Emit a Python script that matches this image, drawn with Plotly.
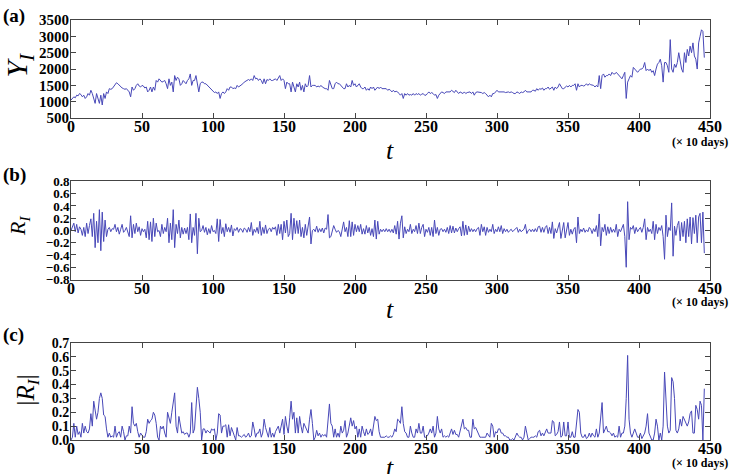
import plotly.graph_objects as go

# ---------------- data ----------------
t_values = list(range(0, 447))

Y_I = [
    1050, 1100, 1150, 1120, 1200, 1180, 1250, 1220, 1150, 1200,
    1100, 1150, 1250, 1200, 1350, 1250, 1100, 950, 1250, 1100,
    950, 1200, 900, 1250, 1100, 1300, 1250, 1400, 1380, 1400,
    1450, 1500, 1580, 1550, 1500, 1480, 1420, 1400, 1380, 1400,
    1350, 1300, 1150, 1450, 1350, 1400, 1500, 1550, 1480, 1450,
    1500, 1480, 1420, 1450, 1300, 1350, 1450, 1300, 1450, 1350,
    1650, 1600, 1700, 1650, 1600, 1620, 1650, 1550, 1400, 1700,
    1500, 1600, 1300, 1800, 1650, 1750, 1700, 1500, 1550, 1650,
    1600, 1550, 1650, 1700, 1850, 1500, 1650, 1650, 1800, 1550,
    1300, 1550, 1600, 1600, 1550, 1550, 1500, 1450, 1400, 1350,
    1300, 1280, 1300, 1250, 1300, 1100, 1250, 1300, 1250, 1300,
    1400, 1350, 1450, 1450, 1400, 1420, 1400, 1500, 1450, 1480,
    1500, 1550, 1600, 1620, 1650, 1680, 1650, 1700, 1650, 1800,
    1700, 1720, 1650, 1700, 1650, 1550, 1700, 1550, 1680, 1650,
    1700, 1650, 1650, 1680, 1700, 1650, 1750, 1800, 1650, 1700,
    1650, 1400, 1600, 1550, 1550, 1300, 1600, 1450, 1300, 1550,
    1450, 1600, 1350, 1500, 1300, 1550, 1450, 1500, 1800, 1450,
    1500, 1500, 1500, 1450, 1480, 1450, 1500, 1450, 1420, 1400,
    1400, 1350, 1650, 1500, 1400, 1400, 1550, 1600, 1550, 1550,
    1500, 1450, 1400, 1400, 1550, 1450, 1500, 1450, 1650, 1500,
    1550, 1450, 1500, 1550, 1450, 1400, 1400, 1450, 1350, 1400,
    1350, 1450, 1400, 1450, 1350, 1400, 1450, 1400, 1450, 1400,
    1400, 1380, 1400, 1350, 1380, 1350, 1300, 1350, 1300, 1320,
    1300, 1250, 1200, 1250, 1100, 1250, 1200, 1250, 1200, 1220,
    1200, 1250, 1200, 1250, 1220, 1250, 1200, 1230, 1250, 1200,
    1200, 1250, 1300, 1250, 1280, 1250, 1200, 1220, 1100, 1200,
    1250, 1300, 1280, 1250, 1300, 1300, 1320, 1300, 1350, 1300,
    1280, 1350, 1300, 1250, 1300, 1280, 1250, 1300, 1250, 1280,
    1300, 1300, 1250, 1300, 1200, 1280, 1300, 1300, 1300, 1280,
    1250, 1280, 1250, 1200, 1150, 1200, 1150, 1250, 1250, 1300,
    1350, 1300, 1300, 1300, 1320, 1300, 1280, 1300, 1300, 1280,
    1300, 1280, 1250, 1250, 1300, 1280, 1250, 1300, 1280, 1300,
    1350, 1300, 1300, 1320, 1300, 1350, 1350, 1320, 1400, 1350,
    1400, 1380, 1420, 1350, 1400, 1400, 1450, 1380, 1420, 1450,
    1350, 1450, 1400, 1450, 1550, 1450, 1400, 1400, 1450, 1480,
    1450, 1500, 1450, 1500, 1500, 1550, 1350, 1550, 1450, 1500,
    1500, 1480, 1500, 1550, 1500, 1550, 1520, 1500, 1500, 1450,
    1500, 1450, 1800, 1400, 1800, 1850, 1750, 1800, 1800, 1850,
    1800, 1900, 1850, 1850, 1900, 1850, 1800, 1750, 1700, 1800,
    1900, 1100, 1600, 1700, 1800, 1750, 2050, 2000, 1950, 1900,
    1950, 2000, 2000, 2050, 2200, 1950, 2000, 1950, 2000, 1900,
    1950, 1800, 2000, 2150, 2200, 2300, 2100, 1600, 2200, 2200,
    2100, 1900, 2900, 2000, 1900, 2150, 2050, 2200, 2500, 2200,
    2000, 1900, 2500, 2200, 2600, 2400, 2700, 2500, 2800, 2400,
    2300, 2000, 2800, 3000, 3200, 3150, 2350,
]

R_I = [
    0.0, 0.05, 0.12, -0.02, 0.1, -0.04, 0.06, 0.02, -0.08, 0.05,
    -0.1, 0.12, -0.05, 0.08, 0.19, -0.1, 0.28, -0.28, 0.15, -0.2,
    0.34, -0.33, 0.3, -0.18, 0.17, -0.1, 0.02, 0.05, -0.02, 0.03,
    0.02, 0.1, -0.02, 0.05, -0.06, 0.02, 0.1, -0.03, 0.0, 0.05,
    -0.03, -0.1, 0.24, -0.12, 0.1, -0.05, 0.12, -0.02, 0.06, -0.08,
    0.03, -0.02, 0.02, -0.12, 0.15, -0.15, 0.14, -0.18, 0.2, -0.1,
    0.12, -0.02, 0.0, -0.1, 0.1, -0.05, 0.05, -0.02, 0.2, -0.2,
    0.12, -0.15, 0.34, -0.28, 0.1, -0.05, 0.17, -0.12, 0.05, -0.06,
    0.04, -0.05, 0.05, -0.15, 0.27, -0.2, 0.05, -0.08, 0.28, -0.38,
    0.2, -0.02, 0.0, 0.08, -0.03, 0.05, -0.07, 0.03, -0.05, 0.08,
    -0.02, 0.0, -0.05, 0.19, -0.18, 0.18, -0.05, 0.05, -0.1, 0.11,
    -0.02, 0.05, -0.03, 0.09, -0.09, 0.03, 0.0, 0.05, -0.03, 0.03,
    0.02, -0.03, 0.04, 0.02, -0.03, 0.05, -0.02, 0.13, -0.08, 0.02,
    -0.03, 0.05, -0.05, 0.15, -0.08, 0.05, -0.05, 0.09, -0.05, 0.02,
    0.04, -0.02, 0.05, 0.02, 0.06, -0.08, 0.1, -0.05, 0.1, -0.15,
    0.15, -0.04, 0.17, -0.1, -0.05, 0.28, -0.15, 0.2, -0.05, 0.16,
    -0.05, 0.17, -0.1, 0.05, -0.12, 0.1, -0.08, 0.05, 0.22, -0.22,
    0.0, 0.02, -0.02, 0.07, -0.03, 0.03, -0.02, 0.04, -0.04, 0.04,
    0.02, 0.26, -0.12, -0.1, 0.02, 0.08, 0.02, -0.03, 0.0, -0.02,
    -0.1, 0.02, 0.14, -0.02, 0.05, -0.1, 0.16, -0.1, 0.14, -0.08,
    0.1, -0.02, 0.08, -0.02, 0.1, -0.06, 0.03, -0.06, 0.08, -0.04,
    0.05, -0.08, 0.03, -0.1, 0.17, -0.14, 0.15, -0.06, 0.02, -0.02,
    0.02, -0.02, 0.03, -0.02, 0.02, -0.03, 0.02, -0.04, 0.08, -0.06,
    0.15, -0.14, 0.12, 0.24, -0.12, 0.06, -0.05, 0.02, -0.02, 0.1,
    -0.05, 0.02, -0.02, 0.08, -0.05, 0.12, -0.05, 0.05, 0.1, -0.1,
    0.02, -0.03, 0.05, -0.08, 0.05, -0.1, 0.17, -0.05, 0.05, -0.08,
    0.02, 0.03, -0.02, 0.02, -0.03, 0.05, -0.05, 0.08, -0.04, 0.07,
    -0.04, 0.04, -0.02, 0.03, 0.06, -0.09, 0.15, -0.08, 0.09, -0.07,
    0.07, -0.02, 0.03, -0.02, 0.02, -0.02, 0.03, 0.05, -0.08, 0.1,
    -0.02, 0.06, -0.08, 0.05, -0.03, 0.02, -0.02, 0.1, -0.05, 0.02,
    -0.02, 0.06, -0.02, 0.08, -0.05, 0.03, -0.02, 0.02, -0.03, 0.0,
    0.02, -0.02, 0.0, 0.03, 0.05, -0.03, 0.02, -0.02, 0.0, 0.02,
    0.1, -0.05, 0.0, 0.02, -0.02, 0.02, -0.02, 0.03, -0.02, 0.06,
    0.07, -0.03, 0.05, -0.03, 0.05, 0.08, -0.05, 0.05, -0.05, 0.14,
    -0.13, 0.03, -0.04, 0.06, 0.13, -0.13, 0.03, 0.13, -0.12, 0.03,
    0.13, -0.08, 0.02, -0.06, 0.02, 0.05, -0.2, 0.22, -0.05, 0.02,
    -0.02, 0.04, -0.03, 0.01, -0.02, 0.05, 0.02, -0.05, 0.03, -0.02,
    0.08, -0.1, 0.27, -0.25, 0.05, -0.02, 0.1, -0.08, 0.06, -0.05,
    0.05, -0.03, 0.02, -0.03, 0.1, -0.1, 0.02, -0.02, 0.05, 0.1,
    -0.1, -0.6, 0.47, -0.15, 0.05, 0.02, 0.08, -0.05, 0.05, -0.02,
    0.02, 0.05, -0.03, 0.05, 0.19, -0.15, 0.05, -0.02, 0.02, -0.05,
    0.15, -0.15, 0.1, -0.05, 0.05, 0.0, 0.08, -0.1, -0.47, 0.25,
    -0.1, 0.05, 0.0, 0.45, -0.42, 0.07, -0.08, 0.08, 0.15, -0.17,
    0.13, -0.1, 0.15, -0.2, 0.19, -0.1, 0.22, -0.22, 0.21, -0.05,
    0.25, -0.2, 0.22, 0.28, -0.2, 0.3, -0.37,
]

R_I_abs = [
    0.0, 0.02, 0.12, 0.02, 0.1, 0.04, 0.06, 0.02, 0.12, 0.05,
    0.1, 0.06, 0.05, 0.08, 0.19, 0.1, 0.28, 0.22, 0.15, 0.2,
    0.3, 0.34, 0.3, 0.18, 0.17, 0.08, 0.02, 0.05, 0.02, 0.03,
    0.02, 0.1, 0.02, 0.05, 0.06, 0.02, 0.1, 0.06, 0.0, 0.03,
    0.03, 0.1, 0.05, 0.24, 0.12, 0.1, 0.12, 0.06, 0.02, 0.05,
    0.03, 0.02, 0.02, 0.06, 0.15, 0.12, 0.14, 0.15, 0.2, 0.18,
    0.12, 0.02, 0.0, 0.1, 0.08, 0.1, 0.05, 0.02, 0.2, 0.15,
    0.12, 0.2, 0.28, 0.34, 0.1, 0.05, 0.17, 0.12, 0.05, 0.06,
    0.04, 0.05, 0.05, 0.02, 0.05, 0.27, 0.05, 0.08, 0.28, 0.38,
    0.3, 0.2, 0.0, 0.08, 0.08, 0.05, 0.07, 0.06, 0.05, 0.08,
    0.07, 0.08, 0.0, 0.05, 0.19, 0.18, 0.05, 0.1, 0.1, 0.11,
    0.02, 0.11, 0.03, 0.09, 0.05, 0.03, 0.0, 0.09, 0.03, 0.03,
    0.02, 0.03, 0.04, 0.02, 0.03, 0.05, 0.02, 0.03, 0.13, 0.08,
    0.02, 0.05, 0.05, 0.08, 0.02, 0.05, 0.15, 0.09, 0.05, 0.02,
    0.09, 0.02, 0.05, 0.02, 0.06, 0.08, 0.1, 0.05, 0.1, 0.15,
    0.04, 0.17, 0.1, 0.05, 0.16, 0.28, 0.15, 0.2, 0.05, 0.16,
    0.05, 0.17, 0.1, 0.05, 0.12, 0.1, 0.08, 0.05, 0.15, 0.22,
    0.12, 0.0, 0.02, 0.07, 0.03, 0.05, 0.02, 0.04, 0.03, 0.04,
    0.02, 0.12, 0.26, 0.12, 0.1, 0.02, 0.08, 0.02, 0.05, 0.02,
    0.1, 0.05, 0.07, 0.14, 0.02, 0.05, 0.1, 0.16, 0.1, 0.14,
    0.08, 0.1, 0.02, 0.08, 0.02, 0.1, 0.06, 0.03, 0.08, 0.04,
    0.05, 0.08, 0.03, 0.1, 0.17, 0.14, 0.15, 0.06, 0.02, 0.02,
    0.02, 0.02, 0.03, 0.02, 0.02, 0.03, 0.02, 0.04, 0.08, 0.06,
    0.15, 0.14, 0.12, 0.24, 0.12, 0.06, 0.05, 0.02, 0.02, 0.1,
    0.05, 0.02, 0.02, 0.08, 0.05, 0.12, 0.05, 0.05, 0.1, 0.02,
    0.02, 0.03, 0.05, 0.08, 0.05, 0.1, 0.02, 0.05, 0.17, 0.08,
    0.05, 0.08, 0.02, 0.03, 0.02, 0.03, 0.02, 0.05, 0.08, 0.04,
    0.07, 0.04, 0.04, 0.02, 0.06, 0.09, 0.15, 0.08, 0.09, 0.07,
    0.07, 0.02, 0.02, 0.15, 0.08, 0.09, 0.07, 0.05, 0.02, 0.02,
    0.02, 0.02, 0.02, 0.05, 0.03, 0.02, 0.12, 0.1, 0.02, 0.06,
    0.05, 0.08, 0.08, 0.05, 0.05, 0.03, 0.03, 0.02, 0.02, 0.0,
    0.0, 0.01, 0.0, 0.02, 0.05, 0.03, 0.02, 0.02, 0.0, 0.02,
    0.1, 0.05, 0.0, 0.01, 0.02, 0.02, 0.02, 0.03, 0.02, 0.06,
    0.07, 0.03, 0.05, 0.03, 0.05, 0.08, 0.05, 0.05, 0.05, 0.14,
    0.13, 0.03, 0.04, 0.06, 0.13, 0.02, 0.03, 0.13, 0.03, 0.03,
    0.13, 0.02, 0.02, 0.06, 0.02, 0.02, 0.1, 0.22, 0.2, 0.05,
    0.02, 0.02, 0.04, 0.01, 0.02, 0.05, 0.02, 0.05, 0.03, 0.02,
    0.08, 0.02, 0.05, 0.15, 0.27, 0.05, 0.08, 0.1, 0.06, 0.06,
    0.05, 0.03, 0.05, 0.02, 0.03, 0.02, 0.1, 0.02, 0.05, 0.05,
    0.1, 0.3, 0.61, 0.15, 0.05, 0.02, 0.05, 0.08, 0.05, 0.02,
    0.02, 0.05, 0.01, 0.03, 0.05, 0.1, 0.19, 0.05, 0.02, 0.0,
    0.0, 0.05, 0.15, 0.1, 0.0, 0.05, 0.0, 0.1, 0.49, 0.27,
    0.1, 0.05, 0.07, 0.45, 0.42, 0.3, 0.07, 0.05, 0.08, 0.15,
    0.1, 0.17, 0.15, 0.13, 0.1, 0.13, 0.19, 0.21, 0.05, 0.05,
    0.25, 0.22, 0.15, 0.28, 0.25, 0.0, 0.37,
]

x_ticks = [0, 50, 100, 150, 200, 250, 300, 350, 400, 450]
ya_ticks = [500, 1000, 1500, 2000, 2500, 3000, 3500]
yb_ticks = [-0.8, -0.6, -0.4, -0.2, 0.0, 0.2, 0.4, 0.6, 0.8]
yc_ticks = [0.0, 0.1, 0.2, 0.3, 0.4, 0.5, 0.6, 0.7]

# ---------------- figure ----------------
LINE = "#4848b8"
FRAME = "#444444"
SERIF = "Liberation Serif, Times New Roman, Times, serif"

fig = go.Figure()
fig.add_trace(go.Scatter(x=t_values, y=Y_I, mode="lines",
                         line=dict(color=LINE, width=1), xaxis="x", yaxis="y"))
fig.add_trace(go.Scatter(x=t_values, y=R_I, mode="lines",
                         line=dict(color=LINE, width=1), xaxis="x2", yaxis="y2"))
fig.add_trace(go.Scatter(x=t_values, y=R_I_abs, mode="lines",
                         line=dict(color=LINE, width=1), xaxis="x3", yaxis="y3"))

def tfont(size):
    return dict(family=SERIF, size=size, color="black", weight="bold")

def xaxis(anchor):
    return dict(range=[0, 450], tickvals=x_ticks, ticks="inside", ticklen=5,
                tickcolor=FRAME, showline=True, linecolor=FRAME, linewidth=1,
                mirror="allticks", showgrid=False, zeroline=False,
                tickfont=tfont(16), anchor=anchor, domain=[0, 1],
                ticklabelstandoff=-6)

def yaxis(anchor, rng, vals, dom, fmt, size):
    return dict(range=rng, tickvals=vals, tickformat=fmt, ticks="inside",
                ticklen=5, tickcolor=FRAME, showline=True, linecolor=FRAME,
                linewidth=1, mirror="allticks", showgrid=False, zeroline=False,
                tickfont=tfont(size), anchor=anchor, domain=dom,
                ticklabelstandoff=-2)

fig.update_layout(
    width=737, height=474,
    margin=dict(l=71, r=27, t=16, b=34),
    paper_bgcolor="white", plot_bgcolor="white",
    showlegend=False,
    font=dict(family=SERIF),
    xaxis=xaxis("y"),
    xaxis2=xaxis("y2"),
    xaxis3=xaxis("y3"),
    yaxis=yaxis("x", [500, 3500], ya_ticks, [0.7665, 1.0], "d", 15),
    yaxis2=yaxis("x2", [-0.8, 0.8], yb_ticks, [0.3821, 0.6156], ".1f", 13),
    yaxis3=yaxis("x3", [0.0, 0.7], yc_ticks, [0.0, 0.2311], ".1f", 14),
)

def pix_ann(text, x, y, size, xanchor="center", yanchor="middle", angle=0,
            bold=False):
    fig.add_annotation(text=text, xref="paper", yref="paper",
                       x=(x - 71) / 639, y=(440 - y) / 424,
                       xanchor=xanchor, yanchor=yanchor, textangle=angle,
                       showarrow=False,
                       font=dict(family=SERIF, size=size, color="black",
                                 weight="bold" if bold else "normal"))

# panel labels
pix_ann("(a)", 1, 12, 19, xanchor="left", bold=True)
pix_ann("(b)", 1, 172, 19, xanchor="left", bold=True)
pix_ann("(c)", 1, 334, 19, xanchor="left", bold=True)

# y-axis titles
pix_ann("<i>Y</i><sub><i>I</i></sub>", 19, 62, 30, angle=-90)
pix_ann("<i>R</i><sub><i>I</i></sub>", 19, 224, 22, angle=-90)
pix_ann("|<i>R</i><sub><i>I</i></sub>|", 27, 390, 25, angle=-90)

# x-axis titles
for yy in (148, 308, 468):
    pix_ann("<i>t</i>", 390, yy, 26)

# unit notes
for yy in (139, 301, 463):
    pix_ann("(× 10 days)", 700, yy, 12, bold=True)

fig.write_html("out.html")
